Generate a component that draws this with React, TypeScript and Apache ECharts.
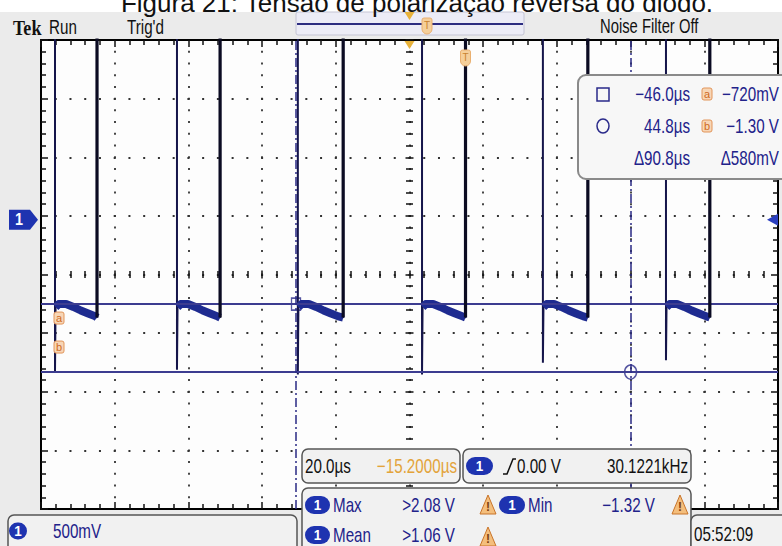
import React, { useEffect, useRef } from "react";
import * as echarts from "echarts";

// ---------- texts ----------
const TITLE = "Figura 21: Tensão de polarização reversa do diodo.";

// ---------- axes (20 µs/div, position -15.2 µs ; 500 mV/div) ----------
const TIME_RANGE = [-115.2, 84.8];
const VOLT_RANGE = [-2.468, 1.532];
const DIV_X = [-5, 5];
const DIV_Y = [-4, 4];

// ---------- channel 1 waveform ----------
const HIGH_LEVEL = 2.4; // clipped above the screen (Max > 2.08 V)
const fallTimes = [-111.4, -78.3, -45.5, -11.8, 21.0, 54.4];
const riseTimes = [-100.0, -66.6, -33.2, 0.0, 33.2, 66.3];
const spikeMins = [-1.3, -1.28, -1.32, -1.32, -1.22, -1.2];
const bandOffsets = [0.15, 1.0, 3.0, 5.0, 7.0, 9.0, 11.0];
const bandValues = [-0.745, -0.72, -0.72, -0.745, -0.775, -0.8, -0.825];
const BAND_END = -0.835;

// ---------- cursors & markers ----------
const cursorLevels = [-0.72, -1.3]; // a, b
const cursorTimes = [-46.0, 44.8]; // square, circle
const GROUND_LEVEL = 0;
const TRIGGER_LEVEL = 0;
const TRIGGER_TIME = 0;

const FONT = '"Liberation Sans", Arial, Helvetica, sans-serif';
const NAVY = "#22228a";
const BADGE = "#1e33b0";

function buildWave() {
  const wave: any[] = [[TIME_RANGE[0], HIGH_LEVEL]];
  const band: any[] = [];
  const rises: any[] = [];
  fallTimes.forEach((tf, i) => {
    const tr = riseTimes[i];
    wave.push([tf, HIGH_LEVEL], [tf, spikeMins[i]]);
    const seg: any[] = [];
    bandOffsets.forEach((o, j) => {
      if (tf + o < tr) seg.push([tf + o, bandValues[j]]);
    });
    seg.push([tr, BAND_END]);
    wave.push(...seg, [tr, HIGH_LEVEL]);
    band.push(...seg, [tr, "-"]);
    rises.push([tr, BAND_END], [tr, HIGH_LEVEL], [tr, "-"]);
  });
  wave.push([TIME_RANGE[1], HIGH_LEVEL]);
  return { wave, band, rises };
}

function divAxis(dim: "x" | "y", position: string, o: any) {
  const range = dim === "x" ? DIV_X : DIV_Y;
  const center = !!o.center;
  const axisLine: any = {
    show: !!o.line,
    onZero: center,
    lineStyle: { color: "#000", width: 2 },
  };
  if (center) axisLine.onZeroAxisIndex = 1;
  return {
    type: "value",
    min: range[0],
    max: range[1],
    interval: 1,
    position,
    axisLabel: { show: false },
    axisLine,
    axisTick: {
      show: true,
      inside: !!o.inside,
      length: center ? 4 : 7,
      lineStyle: { color: "#111", width: 1.5 },
    },
    minorTick: {
      show: true,
      splitNumber: 5,
      length: center ? 3.5 : 5,
      lineStyle: { color: "#111", width: 1.5 },
    },
    splitLine: {
      show: !!o.split,
      lineStyle: {
        color: "#333",
        width: 1.8,
        type: dim === "x" ? [2, 469 / 40 - 2] : [2, 737 / 50 - 2],
        dashOffset: 1,
      },
    },
    minorSplitLine: { show: false },
  };
}

function txt(x: number, y: number, text: string, o: any = {}) {
  return {
    type: "text",
    x,
    y,
    scaleX: o.sx ?? 0.76,
    z: o.z ?? 60,
    silent: true,
    style: {
      text,
      fill: o.fill ?? "#111",
      font: `${o.weight ?? "normal"} ${o.size ?? 20}px ${o.family ?? FONT}`,
      align: o.align ?? "left",
      verticalAlign: "middle",
    },
  };
}

function rbox(x: number, y: number, w: number, h: number, o: any = {}) {
  return {
    type: "rect",
    z: o.z ?? 50,
    silent: true,
    shape: { x, y, width: w, height: h, r: o.r ?? 6 },
    style: { fill: o.fill ?? "#f1f1f1", stroke: o.stroke ?? "#555", lineWidth: o.lw ?? 1.5 },
  };
}

function badge(x: number, cy: number, w = 26, h = 18) {
  return [
    { type: "rect", z: 55, silent: true, shape: { x, y: cy - h / 2, width: w, height: h, r: h / 2 }, style: { fill: BADGE } },
    txt(x + w / 2, cy, "1", { fill: "#fff", align: "center", size: 15, weight: "bold", sx: 0.9 }),
  ];
}

function warn(x: number, yTop: number) {
  return [
    {
      type: "polygon",
      z: 55,
      silent: true,
      shape: { points: [[x + 8, yTop], [x, yTop + 19], [x + 16, yTop + 19]] },
      style: { fill: "#f4be7c", stroke: "#c8742a", lineWidth: 1 },
    },
    txt(x + 8, yTop + 12, "!", { fill: "#7a3d10", align: "center", size: 12, weight: "bold", sx: 1 }),
  ];
}

function tag(cx: number, cy: number, letter: string) {
  return [
    { type: "rect", z: 55, silent: true, shape: { x: cx - 5, y: cy - 6, width: 10, height: 12, r: 2 }, style: { fill: "#f7d6b6", stroke: "#e2955a", lineWidth: 1 } },
    txt(cx, cy, letter, { fill: "#cf6a1e", align: "center", size: 11, sx: 1 }),
  ];
}

function tMark(cx: number, yTop: number) {
  return [
    { type: "rect", z: 55, silent: true, shape: { x: cx - 5, y: yTop, width: 10, height: 16, r: [2, 2, 5, 5] }, style: { fill: "#f5cf9a", stroke: "#eab070", lineWidth: 1 } },
    txt(cx, yTop + 7, "T", { fill: "#c98330", align: "center", size: 10, sx: 1 }),
  ];
}

function orangeTri(cx: number, yTop: number) {
  return {
    type: "polygon",
    z: 55,
    silent: true,
    shape: { points: [[cx - 5, yTop], [cx + 5, yTop], [cx, yTop + 8]] },
    style: { fill: "#e8b23a" },
  };
}

export default function App() {
  const ref = useRef<HTMLDivElement>(null);

  useEffect(() => {
    const chart = echarts.init(ref.current!, null, { renderer: "svg" });
    const { wave, band, rises } = buildWave();

    chart.setOption({
      animation: false,
      backgroundColor: "#ebebeb",
      grid: {
        left: 41,
        right: 4,
        top: 40,
        bottom: 37,
        show: true,
        backgroundColor: "#fdfdfd",
        borderWidth: 0,
        containLabel: false,
        outerBoundsMode: "none",
      },
      xAxis: [
        { type: "value", min: TIME_RANGE[0], max: TIME_RANGE[1], show: false, axisLine: { onZero: false } },
        divAxis("x", "bottom", { line: true, split: true, inside: true }),
        divAxis("x", "top", { line: true, inside: true }),
        divAxis("x", "bottom", { center: true, inside: true }),
        divAxis("x", "bottom", { center: true, inside: false }),
      ],
      yAxis: [
        { type: "value", min: VOLT_RANGE[0], max: VOLT_RANGE[1], show: false, axisLine: { onZero: false } },
        divAxis("y", "left", { line: true, split: true, inside: true }),
        divAxis("y", "right", { line: true, inside: true }),
        divAxis("y", "left", { center: true, inside: true }),
        divAxis("y", "left", { center: true, inside: false }),
      ],
      series: [
        {
          name: "CH1",
          type: "line",
          xAxisIndex: 0,
          yAxisIndex: 0,
          data: wave,
          symbol: "none",
          showSymbol: false,
          silent: true,
          z: 3,
          lineStyle: { color: "#15154a", width: 2 },
        },
        {
          name: "CH1 band",
          type: "line",
          xAxisIndex: 0,
          yAxisIndex: 0,
          data: band,
          symbol: "none",
          showSymbol: false,
          silent: true,
          z: 4,
          lineStyle: { color: "#1e2b90", width: 8, join: "round" },
        },
        {
          name: "CH1 rising edges",
          type: "line",
          xAxisIndex: 0,
          yAxisIndex: 0,
          data: rises,
          symbol: "none",
          showSymbol: false,
          silent: true,
          z: 5,
          lineStyle: { color: "#0b0b22", width: 3.2 },
        },
        {
          name: "Cursors",
          type: "scatter",
          xAxisIndex: 0,
          yAxisIndex: 0,
          silent: true,
          z: 2,
          data: [
            { value: [cursorTimes[0], cursorLevels[0]], symbol: "rect", symbolSize: [9, 12] },
            { value: [cursorTimes[1], cursorLevels[1]], symbol: "circle", symbolSize: [12, 14] },
          ],
          itemStyle: { color: "rgba(255,255,255,0)", borderColor: "#2a2a8a", borderWidth: 1.5 },
          markLine: {
            silent: true,
            symbol: ["none", "none"],
            label: { show: false },
            data: [
              { yAxis: cursorLevels[0], lineStyle: { type: "solid", color: "#3c3c90", width: 2 } },
              { yAxis: cursorLevels[1], lineStyle: { type: "solid", color: "#3c3c90", width: 2 } },
              { xAxis: cursorTimes[0], lineStyle: { type: [9, 3, 2, 3], color: "#2a2a84", width: 1.5 } },
              { xAxis: cursorTimes[1], lineStyle: { type: [9, 3, 2, 3], color: "#2a2a84", width: 1.5 } },
            ],
          },
        },
      ],
    });

    const px = (t: number, v: number) => chart.convertToPixel({ seriesIndex: 0 }, [t, v]) as number[];
    const [gx0, gy0] = px(TIME_RANGE[0], VOLT_RANGE[1]);
    const [gx1] = px(TIME_RANGE[1], VOLT_RANGE[0]);
    const xCenter = (gx0 + gx1) / 2;
    const yGround = px(0, GROUND_LEVEL)[1];
    const yTrigLevel = px(0, TRIGGER_LEVEL)[1];
    const xTrig = px(TRIGGER_TIME, 0)[0];
    const ya = px(0, cursorLevels[0])[1];
    const yb = px(0, cursorLevels[1])[1];

    const g: any[] = [];
    // title strip
    g.push({ type: "rect", z: 1, silent: true, shape: { x: 0, y: 0, width: 782, height: 12 }, style: { fill: "#ffffff" } });
    g.push(txt(417, 3, TITLE, { size: 26, align: "center", sx: 1, fill: "#111" }));

    // header
    g.push(txt(13, 27.5, "Tek", { size: 22, weight: "bold", family: '"Liberation Serif", "Times New Roman", serif', sx: 0.82 }));
    g.push(txt(49, 27, "Run"));
    g.push(txt(127, 27, "Trig'd"));
    g.push(rbox(296, 12, 228, 23, { r: 2, fill: "#ececf6", stroke: "#c4c4d4", lw: 1 }));
    g.push({ type: "line", z: 52, silent: true, shape: { x1: 297, y1: 24, x2: 523, y2: 24 }, style: { stroke: "#2c2c80", lineWidth: 2 } });
    g.push(orangeTri(xCenter, 12));
    g.push(...tMark(427, 18));
    g.push(txt(600, 26.5, "Noise Filter Off", { sx: 0.74 }));

    // ground marker & trigger level
    g.push({
      type: "polygon",
      z: 55,
      silent: true,
      shape: { points: [[9, yGround - 10], [30, yGround - 10], [38, yGround], [30, yGround + 10], [9, yGround + 10]] },
      style: { fill: BADGE },
    });
    g.push(txt(19, yGround, "1", { fill: "#fff", align: "center", size: 16, weight: "bold", sx: 0.9 }));
    g.push({
      type: "polygon",
      z: 55,
      silent: true,
      shape: { points: [[gx1 - 11, yTrigLevel], [gx1, yTrigLevel - 6], [gx1, yTrigLevel + 6]] },
      style: { fill: "#2a3fc0" },
    });

    // markers on graticule
    g.push(orangeTri(xCenter, gy0 + 1));
    g.push(...tMark(xTrig, gy0 + 10));
    g.push(...tag(gx0 + 18, ya + 14, "a"));
    g.push(...tag(gx0 + 18, yb - 25, "b"));

    // cursor readout box
    g.push(rbox(578, 75, 215, 104, { r: 8, fill: "#f7f7f7", stroke: "#8a8a8a", lw: 2 }));
    g.push({ type: "rect", z: 55, silent: true, shape: { x: 597, y: 88, width: 12, height: 13 }, style: { fill: "none", stroke: "#2a2a8a", lineWidth: 1.5 } });
    g.push({ type: "ellipse", z: 55, silent: true, shape: { cx: 603, cy: 126, rx: 6, ry: 7 }, style: { fill: "none", stroke: "#2a2a8a", lineWidth: 1.5 } });
    g.push(txt(690, 94, "−46.0µs", { fill: NAVY, align: "right" }));
    g.push(txt(690, 126, "44.8µs", { fill: NAVY, align: "right" }));
    g.push(txt(690, 158, "Δ90.8µs", { fill: NAVY, align: "right" }));
    g.push(...tag(707, 94, "a"));
    g.push(...tag(707, 126, "b"));
    g.push(txt(779, 94, "−720mV", { fill: NAVY, align: "right" }));
    g.push(txt(779, 126, "−1.30 V", { fill: NAVY, align: "right" }));
    g.push(txt(779, 158, "Δ580mV", { fill: NAVY, align: "right" }));

    // bottom: timebase box
    g.push(rbox(302, 449, 158, 34));
    g.push(txt(305, 466, "20.0µs"));
    g.push(txt(457, 466, "−15.2000µs", { fill: "#e3a33a", align: "right" }));
    // trigger box
    g.push(rbox(463, 449, 228, 34));
    g.push(...badge(466, 466, 27, 18));
    g.push({
      type: "polyline",
      z: 58,
      silent: true,
      shape: { points: [[503, 474], [507, 474], [513, 459], [516, 459]] },
      style: { stroke: "#111", lineWidth: 1.5, fill: "none" },
    });
    g.push(txt(517, 466, "0.00 V"));
    g.push(txt(688, 466, "30.1221kHz", { align: "right" }));
    // measurements box
    g.push(rbox(302, 488, 389, 70));
    g.push(...badge(305, 505, 25, 18));
    g.push(txt(333, 505, "Max", { fill: NAVY }));
    g.push(txt(455, 505, ">2.08 V", { fill: NAVY, align: "right" }));
    g.push(...warn(480, 495));
    g.push(...badge(499, 505, 26, 18));
    g.push(txt(528, 505, "Min", { fill: NAVY }));
    g.push(txt(655, 505, "−1.32 V", { fill: NAVY, align: "right" }));
    g.push(...warn(672, 495));
    g.push(...badge(305, 535, 25, 18));
    g.push(txt(333, 535, "Mean", { fill: NAVY }));
    g.push(txt(455, 535, ">1.06 V", { fill: NAVY, align: "right" }));
    g.push(...warn(480, 527));
    // channel scale box
    g.push(rbox(8, 515, 289, 40));
    g.push(...badge(9, 531, 18, 17));
    g.push(txt(53, 531, "500mV", { fill: NAVY }));
    // clock box
    g.push(rbox(691, 515, 100, 40));
    g.push(txt(694, 534, "05:52:09"));

    chart.setOption({ graphic: g });

    return () => chart.dispose();
  }, []);

  return (
    <div
      ref={ref}
      style={{ position: "fixed", left: 0, top: 0, width: 782, height: 546 }}
    />
  );
}
